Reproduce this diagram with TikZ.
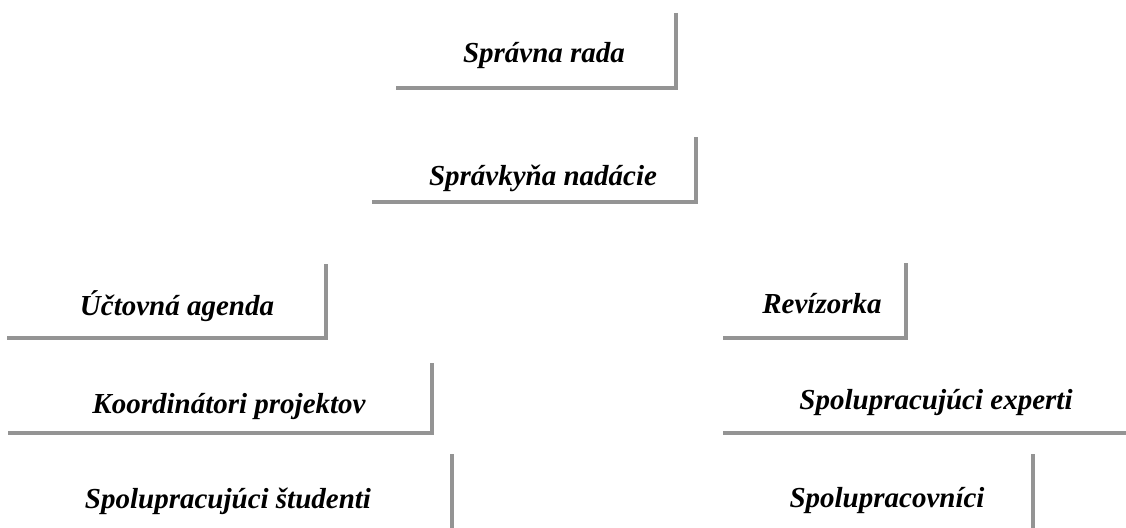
\documentclass[tikz,border=0pt]{standalone}
\usepackage{fontspec}
\setmainfont{Liberation Serif}
\begin{document}
\begin{tikzpicture}[x=1pt,y=-1pt,
  lbl/.style={font=\fontsize{29}{34}\selectfont\bfseries\itshape, anchor=base, inner sep=0pt},
  edgeline/.style={draw=black!42, line width=3.5pt, line join=miter}]
\useasboundingbox (0,0) rectangle (1126,527);
% box edges (right and bottom only)
\draw[edgeline] (676,13) -- (676,88) -- (396,88);
\draw[edgeline] (696,137) -- (696,202) -- (372,202);
\draw[edgeline] (326,264) -- (326,338) -- (7,338);
\draw[edgeline] (432,363) -- (432,433) -- (8,433);
\draw[edgeline] (452,454) -- (452,530);
\draw[edgeline] (906,263) -- (906,338) -- (723,338);
\draw[edgeline] (723,433) -- (1130,433);
\draw[edgeline] (1033,454) -- (1033,530);
% labels
\node[lbl] (sr) at (544,63) {Správna rada};
\node[lbl] (sn) at (543,185) {Správkyňa nadácie};
\node[lbl] (ua) at (177,315) {Účtovná agenda};
\node[lbl] (rv) at (822,313) {Revízorka};
\node[lbl] (kp) at (229,413) {Koordinátori projektov};
\node[lbl] (se) at (936,409) {Spolupracujúci experti};
\node[lbl] (ss) at (228,508) {Spolupracujúci študenti};
\node[lbl] (sp) at (887,507) {Spolupracovníci};
\end{tikzpicture}
\end{document}
